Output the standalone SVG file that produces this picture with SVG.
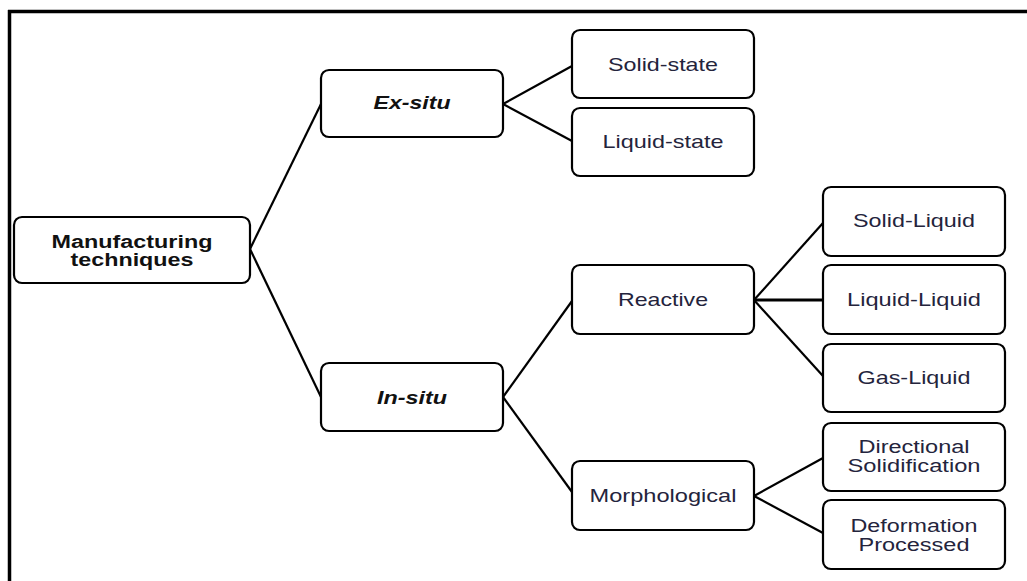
<svg xmlns="http://www.w3.org/2000/svg" width="1027" height="581" viewBox="0 0 1027 581">
<style>
.box{fill:#fff;stroke:#000;stroke-width:2.2}
.t{font-family:"Liberation Sans",Arial,sans-serif;font-size:19px;fill:#24243c;text-anchor:middle}
.s{font-size:17.5px}
.b{font-weight:bold;fill:#111}
.i{font-style:italic}
.c{stroke:#000;stroke-width:2.2;fill:none}
</style>
<rect width="1027" height="581" fill="#fff"/>
<g id="frame" stroke="#000" stroke-width="3.5" fill="none">
<line x1="8" y1="11.5" x2="1027" y2="11.5"/>
<line x1="9.5" y1="10" x2="9.5" y2="581"/>
</g>
<g id="connectors">
<line class="c" x1="250" y1="249" x2="321" y2="104"/>
<line class="c" x1="250" y1="249" x2="321" y2="397"/>
<line class="c" x1="503" y1="104" x2="572" y2="66"/>
<line class="c" x1="503" y1="104" x2="572" y2="141"/>
<line class="c" x1="503" y1="397" x2="572" y2="301"/>
<line class="c" x1="503" y1="397" x2="572" y2="492"/>
<line class="c" x1="754" y1="300" x2="823" y2="223"/>
<line class="c" x1="754" y1="300" x2="823" y2="300" style="stroke-width:3"/>
<line class="c" x1="754" y1="300" x2="823" y2="376"/>
<line class="c" x1="754" y1="496" x2="823" y2="458"/>
<line class="c" x1="754" y1="496" x2="823" y2="533"/>
</g>
<g id="manufacturing">
<rect class="box" x="14" y="217" width="236" height="66" rx="8"/>
<text class="t s b" x="132" y="247.5" textLength="161" lengthAdjust="spacingAndGlyphs">Manufacturing</text>
<text class="t s b" x="132" y="265.5" textLength="123" lengthAdjust="spacingAndGlyphs">techniques</text>
</g>
<g id="exsitu">
<rect class="box" x="321" y="70" width="182" height="67" rx="8"/>
<text class="t b i" x="412" y="109" textLength="77" lengthAdjust="spacingAndGlyphs">Ex-situ</text>
</g>
<g id="insitu">
<rect class="box" x="321" y="363" width="182" height="68" rx="8"/>
<text class="t b i" x="412" y="404" textLength="70" lengthAdjust="spacingAndGlyphs">In-situ</text>
</g>
<g id="solidstate">
<rect class="box" x="572" y="30" width="182" height="68" rx="8"/>
<text class="t" x="663" y="71" textLength="110" lengthAdjust="spacingAndGlyphs">Solid-state</text>
</g>
<g id="liquidstate">
<rect class="box" x="572" y="108" width="182" height="68" rx="8"/>
<text class="t" x="663" y="148" textLength="121" lengthAdjust="spacingAndGlyphs">Liquid-state</text>
</g>
<g id="reactive">
<rect class="box" x="572" y="265" width="182" height="69" rx="8"/>
<text class="t" x="663" y="306" textLength="90" lengthAdjust="spacingAndGlyphs">Reactive</text>
</g>
<g id="morphological">
<rect class="box" x="572" y="461" width="182" height="69" rx="8"/>
<text class="t" x="663" y="502" textLength="147" lengthAdjust="spacingAndGlyphs">Morphological</text>
</g>
<g id="solidliquid">
<rect class="box" x="823" y="187" width="182" height="69" rx="8"/>
<text class="t" x="914" y="227" textLength="122" lengthAdjust="spacingAndGlyphs">Solid-Liquid</text>
</g>
<g id="liquidliquid">
<rect class="box" x="823" y="265" width="182" height="69" rx="8"/>
<text class="t" x="914" y="306" textLength="134" lengthAdjust="spacingAndGlyphs">Liquid-Liquid</text>
</g>
<g id="gasliquid">
<rect class="box" x="823" y="344" width="182" height="68" rx="8"/>
<text class="t" x="914" y="384" textLength="113" lengthAdjust="spacingAndGlyphs">Gas-Liquid</text>
</g>
<g id="directional">
<rect class="box" x="823" y="423" width="182" height="68" rx="8"/>
<text class="t s" x="914" y="453" textLength="111" lengthAdjust="spacingAndGlyphs">Directional</text>
<text class="t s" x="914" y="472" textLength="133" lengthAdjust="spacingAndGlyphs">Solidification</text>
</g>
<g id="deformation">
<rect class="box" x="823" y="500" width="182" height="69" rx="8"/>
<text class="t s" x="914" y="531.5" textLength="127" lengthAdjust="spacingAndGlyphs">Deformation</text>
<text class="t s" x="914" y="550.5" textLength="111" lengthAdjust="spacingAndGlyphs">Processed</text>
</g>
</svg>
